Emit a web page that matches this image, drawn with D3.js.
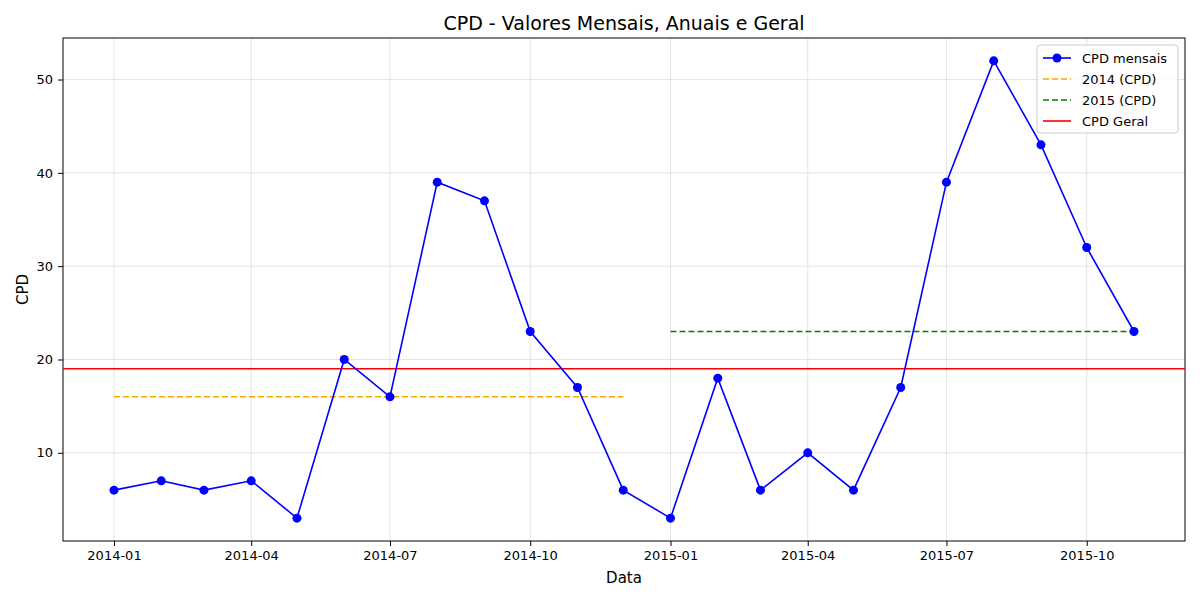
<!DOCTYPE html><html><head><meta charset="utf-8"><script src="https://cdn.jsdelivr.net/npm/d3@7"></script>
<style>body{margin:0;background:#fff;font-family:"DejaVu Sans",sans-serif}</style></head><body><svg id="c" width="1200" height="600"></svg>
<script>
const months=["2014-01","2014-02","2014-03","2014-04","2014-05","2014-06","2014-07","2014-08","2014-09","2014-10","2014-11","2014-12","2015-01","2015-02","2015-03","2015-04","2015-05","2015-06","2015-07","2015-08","2015-09","2015-10","2015-11"];
const cpd=[6,7,6,7,3,20,16,39,37,23,17,6,3,18,6,10,6,17,39,52,43,32,23];
const avg2014={from:"2014-01",to:"2014-12",value:16};
const avg2015={from:"2015-01",to:"2015-11",value:23};
const overall=19;
const yTicks=[10,20,30,40,50];
const xTicks=["2014-01","2014-04","2014-07","2014-10","2015-01","2015-04","2015-07","2015-10"];
const p=d3.timeParse("%Y-%m");
const svg=d3.select("#c");
const L=63,R=1185,T=38,B=541;
const d0=p(months[0]),d1=p(months[months.length-1]),span=d1-d0;
const x=d3.scaleTime().domain([new Date(+d0-span*0.05),new Date(+d1+span*0.05)]).range([L,R]);
const y=d3.scaleLinear().domain([0.55,54.45]).range([B,T]);
const g=svg.append("g");
g.selectAll(".gx").data(xTicks).join("line").attr("x1",d=>x(p(d))).attr("x2",d=>x(p(d))).attr("y1",T).attr("y2",B).attr("stroke","#ddd").attr("stroke-width",0.8);
g.selectAll(".gy").data(yTicks).join("line").attr("y1",d=>y(d)).attr("y2",d=>y(d)).attr("x1",L).attr("x2",R).attr("stroke","#ddd").attr("stroke-width",0.8);
const ax=svg.append("g").attr("transform",`translate(0,${B})`).call(d3.axisBottom(x).tickValues(xTicks.map(p)).tickFormat(d3.timeFormat("%Y-%m")).tickSizeOuter(0).tickSize(5).tickPadding(5));
const ay=svg.append("g").attr("transform",`translate(${L},0)`).call(d3.axisLeft(y).tickValues(yTicks).tickSizeOuter(0).tickSize(5).tickPadding(5));
[ax,ay].forEach(a=>{a.selectAll("text").attr("font-size",13).attr("fill","#000").attr("font-family","DejaVu Sans");a.select(".domain").remove();a.selectAll("line").attr("stroke","#000")});
svg.append("rect").attr("x",L).attr("y",T).attr("width",R-L).attr("height",B-T).attr("fill","none").attr("stroke","#000").attr("stroke-width",1);
svg.append("line").attr("x1",x(p(avg2014.from))).attr("x2",x(p(avg2014.to))).attr("y1",y(avg2014.value)).attr("y2",y(avg2014.value)).attr("stroke","orange").attr("stroke-width",1.6).attr("stroke-dasharray","6,3");
svg.append("line").attr("x1",x(p(avg2015.from))).attr("x2",x(p(avg2015.to))).attr("y1",y(avg2015.value)).attr("y2",y(avg2015.value)).attr("stroke","green").attr("stroke-width",1.6).attr("stroke-dasharray","6,3");
svg.append("line").attr("x1",L).attr("x2",R).attr("y1",y(overall)).attr("y2",y(overall)).attr("stroke","red").attr("stroke-width",1.6);
const data=months.map((m,i)=>({d:p(m),v:cpd[i]}));
svg.append("path").datum(data).attr("d",d3.line().x(d=>x(d.d)).y(d=>y(d.v))).attr("fill","none").attr("stroke","blue").attr("stroke-width",1.6);
svg.selectAll(".pt").data(data).join("circle").attr("cx",d=>x(d.d)).attr("cy",d=>y(d.v)).attr("r",4.5).attr("fill","blue");
svg.append("text").attr("x",(L+R)/2).attr("y",30).attr("text-anchor","middle").attr("font-size",19).text("CPD - Valores Mensais, Anuais e Geral");
svg.append("text").attr("x",(L+R)/2).attr("y",583).attr("text-anchor","middle").attr("font-size",15).text("Data");
svg.append("text").attr("transform",`translate(28,${(T+B)/2}) rotate(-90)`).attr("text-anchor","middle").attr("font-size",15).text("CPD");
const lg=svg.append("g").attr("transform","translate(1037,45)");
lg.append("rect").attr("width",141).attr("height",88).attr("rx",3).attr("fill","#fff").attr("fill-opacity",0.8).attr("stroke","#ccc");
const items=[["CPD mensais","blue",null,true],["2014 (CPD)","orange","6,3"],["2015 (CPD)","green","6,3"],["CPD Geral","red",null]];
items.forEach((it,i)=>{const yy=13+i*21;
lg.append("line").attr("x1",6).attr("x2",34).attr("y1",yy).attr("y2",yy).attr("stroke",it[1]).attr("stroke-width",1.6).attr("stroke-dasharray",it[2]);
if(it[3])lg.append("circle").attr("cx",20).attr("cy",yy).attr("r",4.5).attr("fill","blue");
lg.append("text").attr("x",45).attr("y",yy+4.5).attr("font-size",13).text(it[0]);});
</script></body></html>
